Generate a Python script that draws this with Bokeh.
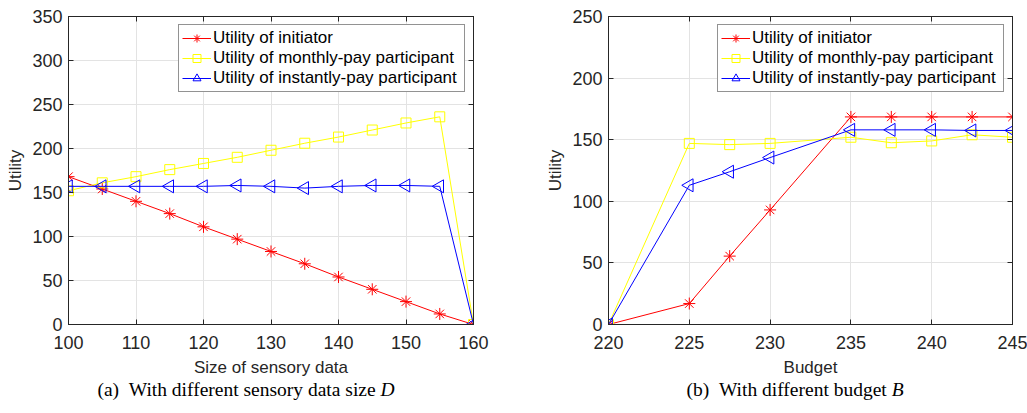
import math
from bokeh.plotting import figure
from bokeh.models import Range1d, LinearAxis, FixedTicker, Div
from bokeh.layouts import row, column
from bokeh.embed import file_html
from bokeh.resources import INLINE

# ---------------- data ----------------
data_size = [100, 105, 110, 115, 120, 125, 130, 135, 140, 145, 150, 155, 160]
initiator_D = [168, 154, 140, 126, 111, 97, 83, 69, 54, 40, 26, 12, 0]
monthly_D = [152, 161, 168, 176, 183, 190, 198, 206, 213, 221, 229, 236, 0]
instant_D = [157, 157, 157, 157, 157, 158, 157, 155, 157, 158, 158, 157, 0]

budget = [220, 225, 227.5, 230, 235, 237.5, 240, 242.5, 245]
initiator_B = [0, 17, 55.5, 93, 168.5, 168.5, 168.5, 168.5, 168.5]
monthly_B = [0, 147, 146, 147, 152, 147.5, 149, 154, 152]
instant_B = [0, 113, 124, 135.5, 158, 158, 158, 157.5, 157.5]

xticks_D = [100, 110, 120, 130, 140, 150, 160]
yticks_D = [0, 50, 100, 150, 200, 250, 300, 350]
xticks_B = [220, 225, 230, 235, 240, 245]
yticks_B = [0, 50, 100, 150, 200, 250]

labels = ["Utility of initiator", "Utility of monthly-pay participant",
          "Utility of instantly-pay participant"]
caption_a = "(a)&nbsp;&nbsp;With different sensory data size <i>D</i>"
caption_b = "(b)&nbsp;&nbsp;With different budget <i>B</i>"

AX = "#262626"
GRID = "#e3e3e3"
FONT = "Liberation Sans"


def make_fig(width, left, right, xr, yr, xt, yt, xlabel, x, ys):
    p = figure(width=width, height=382, x_range=Range1d(*xr), y_range=Range1d(*yr),
               output_backend="svg", toolbar_location=None,
               min_border_left=left, min_border_right=right,
               min_border_top=16, min_border_bottom=58)
    p.outline_line_color = AX
    p.background_fill_color = "white"
    p.border_fill_color = "white"
    for ax in (p.xaxis[0], p.yaxis[0]):
        ax.axis_line_color = AX
        ax.major_tick_line_color = AX
        ax.major_tick_in = 5
        ax.major_tick_out = 0
        ax.minor_tick_line_color = None
        ax.major_label_text_font = FONT
        ax.major_label_text_font_size = "18px"
        ax.major_label_text_color = AX
        ax.axis_label_text_font = FONT
        ax.axis_label_text_font_size = "17px"
        ax.axis_label_text_font_style = "normal"
        ax.axis_label_text_color = AX
    p.xaxis[0].ticker = FixedTicker(ticks=xt)
    p.yaxis[0].ticker = FixedTicker(ticks=yt)
    p.xaxis[0].major_label_standoff = 11
    p.xaxis[0].axis_label_standoff = 6
    p.yaxis[0].major_label_standoff = 6
    p.yaxis[0].axis_label_standoff = 4
    p.xaxis[0].axis_label = xlabel
    p.yaxis[0].axis_label = "Utility"
    p.xgrid.ticker = FixedTicker(ticks=xt)
    p.ygrid.ticker = FixedTicker(ticks=yt)
    p.xgrid.grid_line_color = GRID
    p.ygrid.grid_line_color = GRID

    # box ticks on the top and right edges (no labels)
    for loc, tk in (("right", yt), ("above", xt)):
        a = LinearAxis(ticker=FixedTicker(ticks=tk), major_label_text_font_size="1px",
                       major_label_text_color=None,
                       major_tick_in=5, major_tick_out=0, major_label_standoff=0,
                       axis_line_color=AX, major_tick_line_color=AX,
                       minor_tick_line_color=None)
        p.add_layout(a, loc)

    y1, y2, y3 = ys
    p.line(x, y1, color="#ff0000", line_width=1, legend_label=labels[0])
    p.scatter(x, y1, marker="asterisk", size=12, line_color="#ff0000", line_width=1,
              legend_label=labels[0])
    p.line(x, y2, color="#ffff00", line_width=1, legend_label=labels[1])
    p.scatter(x, y2, marker="square", size=10, line_color="#ffff00", fill_color=None,
              line_width=1, legend_label=labels[1])
    p.line(x, y3, color="#0000ff", line_width=1, legend_label=labels[2])
    p.scatter(x, y3, marker="triangle", size=13, angle=math.pi / 2, line_color="#0000ff",
              fill_color=None, line_width=1, legend_label=labels[2])

    lg = p.legend[0]
    lg.location = "top_right"
    lg.margin = 8
    lg.padding = 3
    lg.spacing = 0
    lg.glyph_width = 29
    lg.glyph_height = 20
    lg.label_height = 20
    lg.label_width = 248
    lg.label_standoff = 2
    lg.label_text_font = FONT
    lg.label_text_font_size = "17px"
    lg.label_text_color = "#000000"
    lg.border_line_color = AX
    lg.border_line_width = 1
    lg.background_fill_alpha = 1
    return p


p1 = make_fig(528, 68, 55, (100, 160), (0, 350), xticks_D, yticks_D,
              "Size of sensory data", data_size, (initiator_D, monthly_D, instant_D))
p2 = make_fig(499, 80, 15, (220, 245), (0, 250), xticks_B, yticks_B,
              "Budget", budget, (initiator_B, monthly_B, instant_B))

html = (
    '<div style="position:relative;width:1027px;height:26px;'
    'font-family:\'Liberation Serif\';font-size:19.5px;line-height:16px;color:#000;">'
    '<span style="position:absolute;left:246px;top:0;transform:translateX(-50%);white-space:nowrap;">'
    + caption_a + '</span>'
    '<span style="position:absolute;left:795px;top:0;transform:translateX(-50%);white-space:nowrap;">'
    + caption_b + '</span></div>'
)
cap = Div(text=html, width=1027, height=26, margin=(0, 0, 0, 0))

layout = column(row(p1, p2), cap)
open("out.html", "w").write(file_html(layout, INLINE))
